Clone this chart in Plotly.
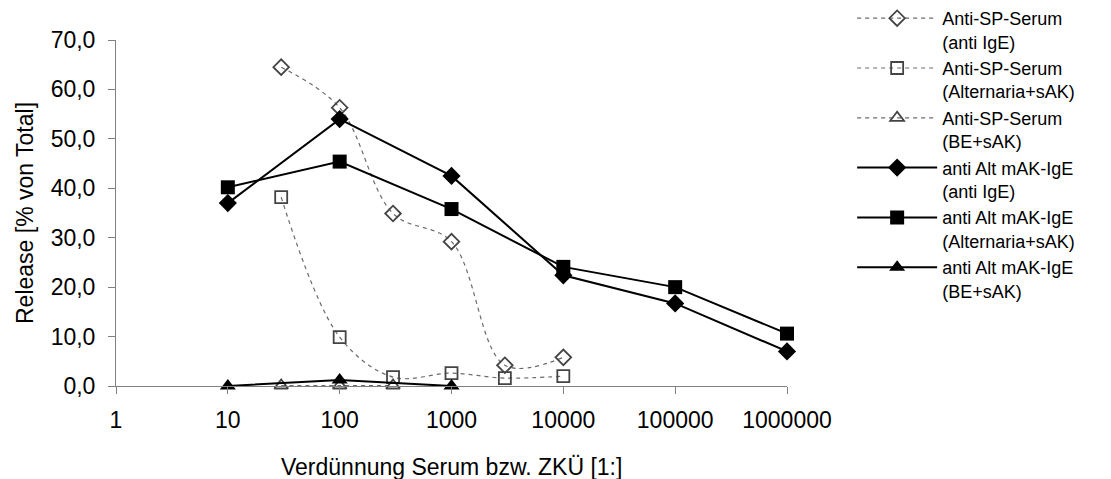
import plotly.graph_objects as go

# ---- data ----
x_ticks = [1, 10, 100, 1000, 10000, 100000, 1000000]
x_tick_labels = ["1", "10", "100", "1000", "10000", "100000", "1000000"]
y_ticks = [0, 10, 20, 30, 40, 50, 60, 70]

sp_x = [30, 100, 300, 1000, 3000, 10000]
sp_antiIgE = [64.5, 56.3, 34.9, 29.2, 4.2, 5.8]
sp_alt = [38.2, 9.9, 1.8, 2.6, 1.6, 2.0]
sp_be_x = [30, 100, 300]
sp_be = [0.1, 0.1, 0.1]

mak_x = [10, 100, 1000, 10000, 100000, 1000000]
mak_antiIgE = [37.0, 54.0, 42.5, 22.4, 16.7, 7.0]
mak_alt = [40.2, 45.4, 35.8, 24.1, 20.0, 10.6]
mak_be_x = [10, 100, 1000]
mak_be = [0.0, 1.2, 0.0]

names = [
    "Anti-SP-Serum<br>(anti IgE)",
    "Anti-SP-Serum<br>(Alternaria+sAK)",
    "Anti-SP-Serum<br>(BE+sAK)",
    "anti Alt mAK-IgE<br>(anti IgE)",
    "anti Alt mAK-IgE<br>(Alternaria+sAK)",
    "anti Alt mAK-IgE<br>(BE+sAK)",
]

FONT = "Liberation Sans, Arial, sans-serif"
fig = go.Figure()

dash_line = dict(color="#6a6a6a", width=1.2, dash="4px,4px", shape="spline", smoothing=1)
open_col = "#444444"
fig.add_trace(go.Scatter(x=sp_x, y=sp_antiIgE, name=names[0], mode="lines+markers",
                         line=dash_line,
                         marker=dict(symbol="diamond-open", size=12, color=open_col, line=dict(width=1.8))))
fig.add_trace(go.Scatter(x=sp_x, y=sp_alt, name=names[1], mode="lines+markers",
                         line=dash_line,
                         marker=dict(symbol="square-open", size=12, color=open_col, line=dict(width=1.8))))
fig.add_trace(go.Scatter(x=sp_be_x, y=sp_be, name=names[2], mode="lines+markers",
                         line=dash_line,
                         marker=dict(symbol="triangle-up-open", size=12, color=open_col, line=dict(width=1.8))))

solid = dict(color="black", width=2)
fig.add_trace(go.Scatter(x=mak_x, y=mak_antiIgE, name=names[3], mode="lines+markers",
                         line=solid, marker=dict(symbol="diamond", size=14, color="black")))
fig.add_trace(go.Scatter(x=mak_x, y=mak_alt, name=names[4], mode="lines+markers",
                         line=solid, marker=dict(symbol="square", size=14, color="black")))
fig.add_trace(go.Scatter(x=mak_be_x, y=mak_be, name=names[5], mode="lines+markers",
                         line=solid, marker=dict(symbol="triangle-up", size=14, color="black")))

fig.update_traces(cliponaxis=False)

fig.update_layout(
    width=1111, height=479,
    margin=dict(l=116, r=324, t=40, b=93),
    paper_bgcolor="white", plot_bgcolor="white",
    separators=",.",
    font=dict(family=FONT, size=23, color="black"),
    showlegend=True,
    legend=dict(xref="container", yref="container", x=0.767, xanchor="left", y=1.0, yanchor="top",
                font=dict(family=FONT, size=18, color="black"), valign="top",
                itemwidth=80, tracegroupgap=0, bgcolor="rgba(0,0,0,0)",
                maxheight=470),
    xaxis=dict(type="log", range=[0, 6], tickvals=x_ticks, ticktext=x_tick_labels,
               showgrid=False, zeroline=False, showline=True, linecolor="#808080", linewidth=1,
               ticks="outside", ticklen=7, tickcolor="#808080", ticklabelstandoff=6,
               tickfont=dict(family=FONT, size=23, color="black")),
    yaxis=dict(range=[0, 70], tickvals=y_ticks, tickformat=".1f",
               showgrid=False, zeroline=False, showline=True, linecolor="#808080", linewidth=1,
               ticks="outside", ticklen=7, tickcolor="#808080", ticklabelstandoff=8,
               tickfont=dict(family=FONT, size=23, color="black"),
               title=dict(text="Release [% von Total]", font=dict(family=FONT, size=23, color="black"),
                          standoff=10)),
    annotations=[dict(text="Verdünnung Serum bzw. ZKÜ [1:]", xref="paper", yref="paper",
                      x=0.5, y=-0.235, xanchor="center", yanchor="middle",
                      showarrow=False, font=dict(family=FONT, size=23, color="black"))],
)

fig.write_html("out.html")
